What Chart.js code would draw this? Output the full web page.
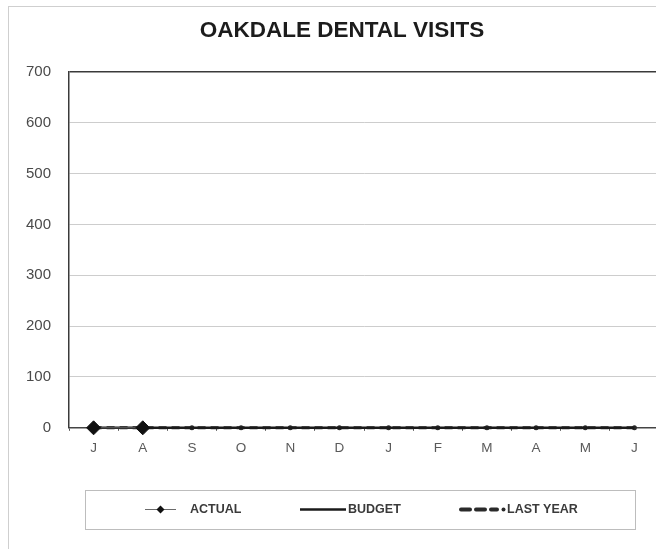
<!DOCTYPE html>
<html>
<head>
<meta charset="utf-8">
<script src="https://cdn.jsdelivr.net/npm/chart.js@4"></script>
<style>
  html, body { margin: 0; padding: 0; background: #fff; overflow: hidden; }
  #wrap { position: absolute; left: 0; top: 0; width: 684px; height: 549px; }
</style>
</head>
<body>
<div id="wrap"><canvas id="c" width="684" height="549"></canvas></div>
<script>
// Fiscal-year months, July through June
const months = ['J', 'A', 'S', 'O', 'N', 'D', 'J', 'F', 'M', 'A', 'M', 'J'];
// Visits recorded so far this year
const actual = [0, 0, null, null, null, null, null, null, null, null, null, null];
// Planned visits per month
const budget = [0, 0, 0, 0, 0, 0, 0, 0, 0, 0, 0, 0];
// Visits in the same month of the previous year
const lastYear = [0, 0, 0, 0, 0, 0, 0, 0, 0, 0, 0, 0];
// Value axis
const yMin = 0;
const yMax = 700;
const yStep = 100;

const FONT = '"Liberation Sans", Arial, Helvetica, sans-serif';

// Light outer frame around the whole chart
const framePlugin = {
  id: 'frame',
  beforeDraw(chart) {
    const ctx = chart.ctx;
    ctx.save();
    ctx.strokeStyle = '#cfcfcf';
    ctx.lineWidth = 1;
    ctx.strokeRect(8.5, 6.5, 720, 600);
    ctx.restore();
  }
};

// Boxed legend below the axis, drawn from each dataset's own styling
const boxLegendPlugin = {
  id: 'boxLegend',
  afterDraw(chart) {
    const ctx = chart.ctx;
    const ds = chart.data.datasets;
    const top = chart.scales.x.bottom + 25;
    const h = 39;
    const cy = top + h / 2;
    ctx.save();
    ctx.strokeStyle = '#bdbdbd';
    ctx.lineWidth = 1;
    ctx.strokeRect(85.5, top + 0.5, 550, h);

    ctx.font = 'bold 12.5px ' + FONT;
    ctx.fillStyle = '#3a3a3a';
    ctx.textBaseline = 'middle';
    ctx.textAlign = 'left';

    // ACTUAL: thin line with a diamond
    ctx.strokeStyle = ds[0].borderColor;
    ctx.lineWidth = 1;
    ctx.beginPath(); ctx.moveTo(145, cy); ctx.lineTo(176, cy); ctx.stroke();
    ctx.fillStyle = ds[0].pointBackgroundColor;
    ctx.beginPath();
    ctx.moveTo(160.5, cy - 4); ctx.lineTo(164.5, cy); ctx.lineTo(160.5, cy + 4); ctx.lineTo(156.5, cy);
    ctx.closePath(); ctx.fill();
    ctx.fillStyle = '#3a3a3a';
    ctx.fillText(ds[0].label, 190, cy);

    // BUDGET: heavy solid line
    ctx.strokeStyle = ds[1].borderColor;
    ctx.lineWidth = 2.5;
    ctx.beginPath(); ctx.moveTo(300, cy); ctx.lineTo(346, cy); ctx.stroke();
    ctx.fillText(ds[1].label, 348, cy);

    // LAST YEAR: heavy dashes with a dot
    ctx.strokeStyle = ds[2].borderColor;
    ctx.lineWidth = 4;
    ctx.lineCap = 'round';
    ctx.setLineDash([9, 6]);
    ctx.beginPath(); ctx.moveTo(461, cy); ctx.lineTo(497, cy); ctx.stroke();
    ctx.setLineDash([]);
    ctx.fillStyle = ds[2].borderColor;
    ctx.beginPath(); ctx.arc(503.5, cy, 2, 0, Math.PI * 2); ctx.fill();
    ctx.fillStyle = '#3a3a3a';
    ctx.fillText(ds[2].label, 507, cy);
    ctx.restore();
  }
};

new Chart(document.getElementById('c'), {
  type: 'line',
  data: {
    labels: months,
    datasets: [
      {
        label: 'ACTUAL',
        data: actual,
        borderColor: '#6a6a6a',
        borderWidth: 1,
        pointStyle: 'rectRot',
        pointRadius: 7,
        pointBackgroundColor: '#111',
        pointBorderColor: '#111',
        spanGaps: false,
        clip: false
      },
      {
        label: 'BUDGET',
        data: budget,
        borderColor: '#1a1a1a',
        borderWidth: 2.5,
        pointRadius: 0,
        clip: false
      },
      {
        label: 'LAST YEAR',
        data: lastYear,
        borderColor: '#2a2a2a',
        borderWidth: 3,
        borderDash: [8, 5],
        pointStyle: 'circle',
        pointRadius: 1,
        pointBackgroundColor: '#2a2a2a',
        pointBorderColor: '#2a2a2a',
        clip: false
      }
    ]
  },
  options: {
    responsive: false,
    animation: false,
    events: [],
    layout: { padding: { left: 25, right: 25, top: 4, bottom: 84 } },
    plugins: {
      legend: { display: false },
      tooltip: { enabled: false },
      title: {
        display: true,
        text: 'OAKDALE DENTAL VISITS',
        color: '#1c1c1c',
        font: { family: FONT, size: 22.5, weight: 'bold' },
        padding: { top: 13, bottom: 28 }
      }
    },
    scales: {
      x: {
        offset: true,
        grid: {
          offset: true,
          drawOnChartArea: false,
          drawTicks: true,
          tickLength: 3,
          color: '#555'
        },
        border: { display: true, color: '#444', width: 1.5 },
        ticks: {
          color: '#5a5a5a',
          padding: 9,
          font: { family: FONT, size: 13.5 }
        }
      },
      y: {
        min: yMin,
        max: yMax,
        // fixed gutter for the value labels
        afterFit: scale => { scale.width = 44; },
        grid: {
          drawTicks: false,
          color: ctx => (ctx.tick && ctx.tick.value === yMax) ? '#3a3a3a' : '#cdcdcd',
          lineWidth: ctx => (ctx.tick && ctx.tick.value === yMax) ? 1.5 : 1
        },
        border: { display: true, color: '#3a3a3a', width: 1.5 },
        ticks: {
          stepSize: yStep,
          color: '#4a4a4a',
          padding: 18,
          font: { family: FONT, size: 15 }
        }
      }
    }
  },
  plugins: [framePlugin, boxLegendPlugin]
});
</script>
</body>
</html>
